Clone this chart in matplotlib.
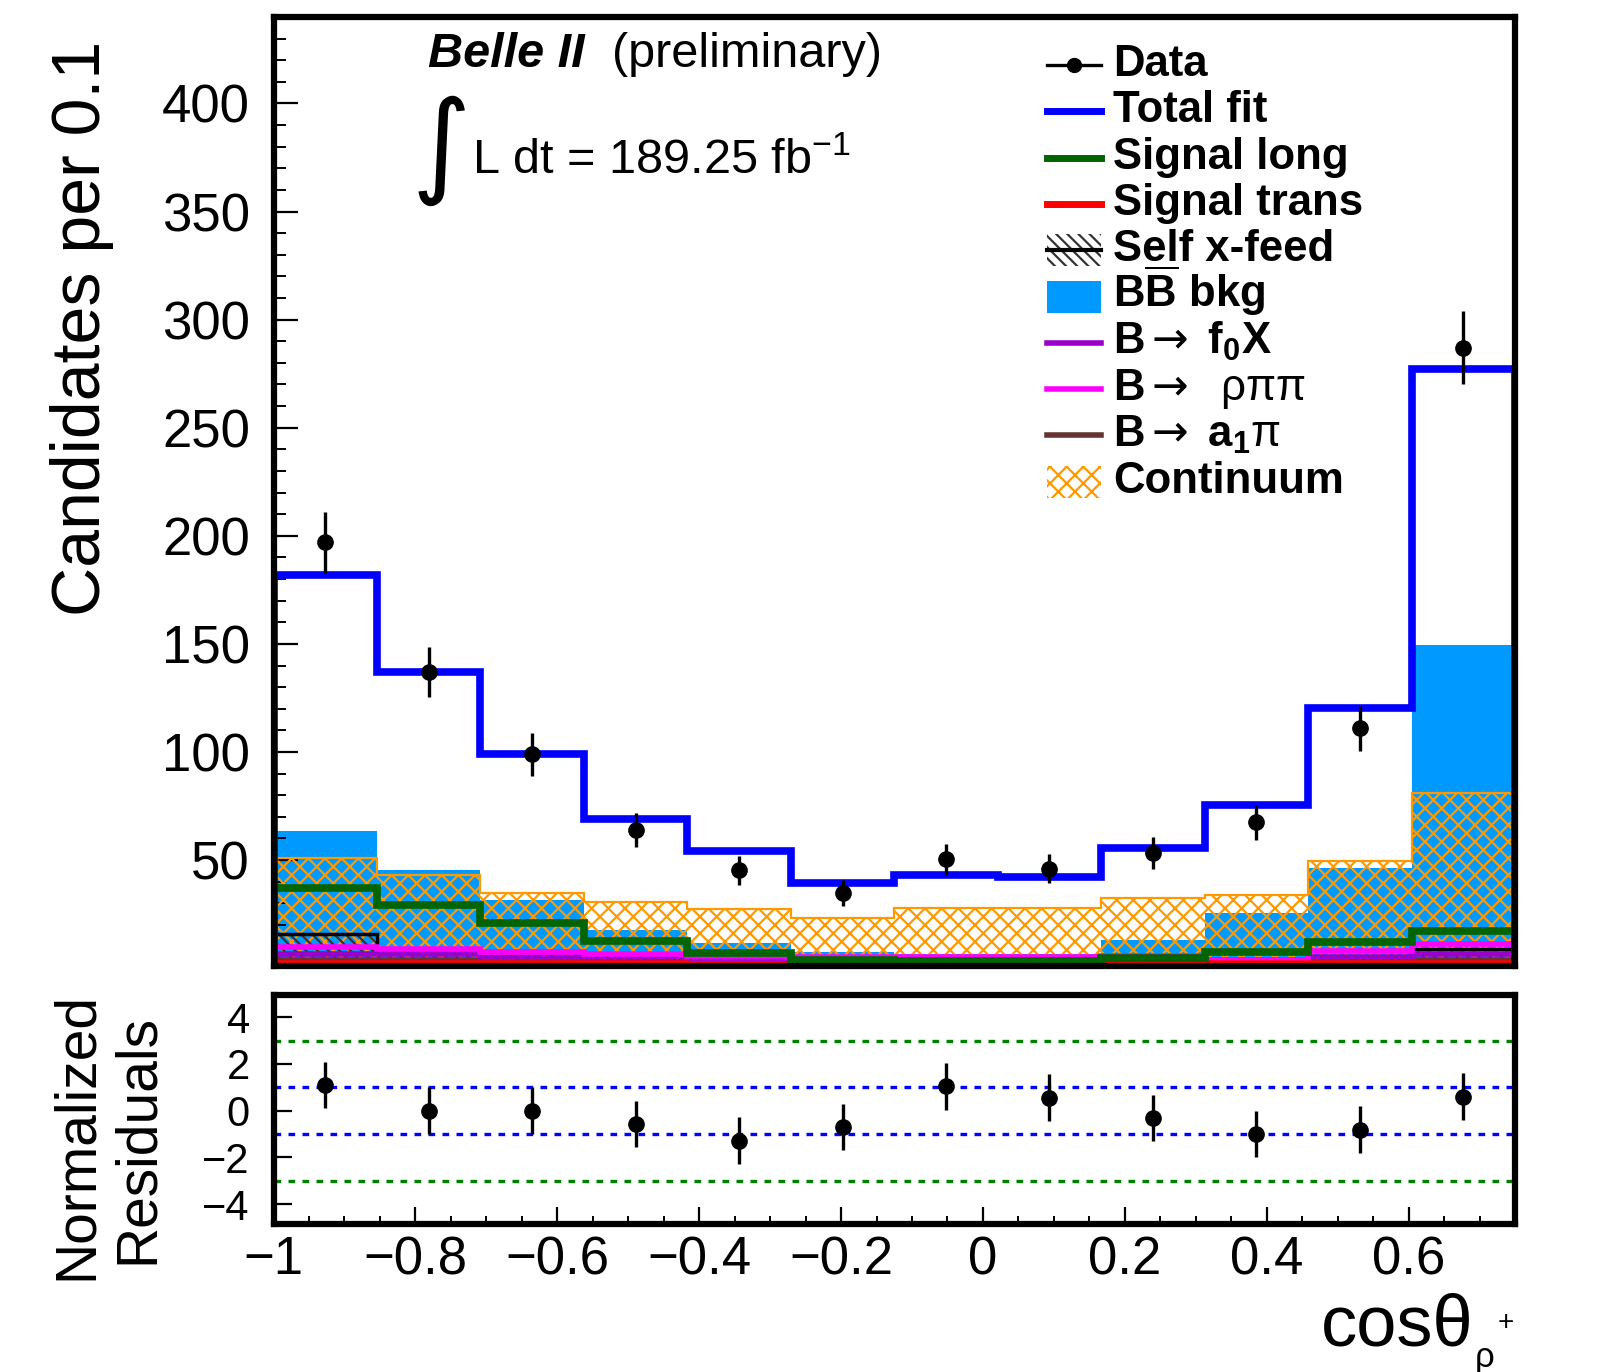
import numpy as np
import matplotlib
matplotlib.use("Agg")
import matplotlib.pyplot as plt
from matplotlib.lines import Line2D
from matplotlib.patches import Rectangle

plt.rcParams['font.family'] = ['Liberation Sans', 'DejaVu Sans']
plt.rcParams['mathtext.fontset'] = 'custom'
plt.rcParams['mathtext.rm'] = 'Liberation Sans'
plt.rcParams['mathtext.it'] = 'Liberation Sans:italic'
plt.rcParams['mathtext.bf'] = 'Liberation Sans:bold'
plt.rcParams['mathtext.sf'] = 'DejaVu Sans'
plt.rcParams['hatch.linewidth'] = 1.6

# ---- binning: 12 bins in cos(theta_rho+) ----
bin_edges = np.linspace(-1.0, 0.75, 13)

# ---- data and fit components (candidates per bin) ----
data_counts = [197, 137, 99, 64, 45.3, 34.8, 50.3, 46.0, 53.3, 67.4, 111, 287]
data_errors = [14.0, 11.7, 10.0, 8.0, 6.7, 5.9, 7.1, 6.8, 7.3, 8.2, 10.5, 16.9]
total_fit = [182, 137, 99, 69, 54.3, 39.2, 43.0, 42.4, 55.6, 75.6, 120.5, 277]
bb_bkg = [63.5, 45.5, 31.7, 17.8, 11.6, 7.5, 6.5, 6.5, 13.0, 25.5, 46.3, 149.7]
continuum = [50.9, 43.2, 34.7, 30.4, 27.3, 23.2, 27.8, 27.6, 32.4, 33.9, 49.4, 81.0]
signal_long = [37.0, 29.3, 20.9, 12.4, 7.0, 4.0, 3.5, 3.5, 4.5, 7.5, 11.9, 17.0]
signal_trans = [2.6, 2.5, 2.3, 2.2, 2.1, 2.0, 2.0, 2.0, 2.1, 2.2, 2.3, 2.6]
self_xfeed = [16.0, 7.0, 3.0, 2.5, 2.0, 2.0, 2.0, 2.0, 2.5, 3.0, 5.0, 9.0]
b_f0x = [6.5, 6.5, 5.0, 4.5, 4.0, 3.5, 3.5, 3.5, 4.0, 4.0, 5.0, 6.5]
b_rhopipi = [10.0, 9.0, 7.5, 6.5, 5.5, 5.0, 5.0, 5.0, 5.5, 4.0, 8.0, 11.0]
b_a1pi = [4.0, 4.0, 3.0, 3.0, 2.5, 2.5, 2.5, 2.5, 3.0, 3.0, 4.0, 4.0]

# ---- normalized residuals ----
residuals = [1.10, 0.0, 0.0, -0.57, -1.28, -0.70, 1.04, 0.55, -0.31, -1.0, -0.81, 0.60]
residual_errors = [1.0, 1.0, 1.0, 1.0, 1.0, 1.0, 1.0, 1.0, 1.0, 1.0, 1.0, 1.0]

# ---- ticks ----
ytick_values = [50, 100, 150, 200, 250, 300, 350, 400]
xtick_values = [-1.0, -0.8, -0.6, -0.4, -0.2, 0.0, 0.2, 0.4, 0.6]
xtick_labels = ["\u22121", "\u22120.8", "\u22120.6", "\u22120.4", "\u22120.2", "0", "0.2", "0.4", "0.6"]
res_tick_values = [-4, -2, 0, 2, 4]
res_tick_labels = ["\u22124", "\u22122", "0", "2", "4"]

centers = 0.5 * (bin_edges[:-1] + bin_edges[1:])

W, H = 1600, 1372
fig = plt.figure(figsize=(W / 100, H / 100), dpi=100)


def fx(px):
    return px / W


def fy(py):
    return 1 - py / H


left, right = 273.5, 1515
ax = fig.add_axes([fx(left), fy(966), (right - left) / W, (966 - 17) / H])
axr = fig.add_axes([fx(left), fy(1224), (right - left) / W, (1224 - 995) / H])

# ---- main panel ----
ax.stairs(bb_bkg, bin_edges, fill=True, facecolor='#0099ff', edgecolor='none', zorder=1)
ax.stairs(continuum, bin_edges, fill=True, facecolor='none', edgecolor='#ff9900',
          hatch='xx', lw=1.6, zorder=2)
ax.stairs(self_xfeed, bin_edges, fill=True, facecolor='none', edgecolor='#333333',
          hatch='\\\\\\', lw=0, zorder=3)
ax.stairs(self_xfeed, bin_edges, color='black', lw=2.5, zorder=3.1)
ax.stairs(b_a1pi, bin_edges, color='#663333', lw=4, zorder=4)
ax.stairs(b_f0x, bin_edges, color='#9900cc', lw=4, zorder=4.1)
ax.stairs(b_rhopipi, bin_edges, color='#ff00ff', lw=4, zorder=4.2)
ax.stairs(signal_trans, bin_edges, color='#ff0000', lw=4, zorder=5)
ax.stairs(signal_long, bin_edges, color='#006400', lw=5.5, zorder=6)
ax.stairs(total_fit, bin_edges, color='#0000ff', lw=5.5, zorder=7)
ax.errorbar(centers, data_counts, yerr=data_errors, fmt='o', color='black',
            ms=11, elinewidth=2.4, capsize=0, zorder=10)

ax.set_xlim(-1.0, 0.75)
ax.set_ylim(1, 440)
ax.set_yticks(ytick_values)
ax.set_yticks(np.arange(10, 441, 10), minor=True)
ax.tick_params(axis='y', which='major', direction='in', length=17, width=1.6,
               labelsize=38, pad=17, right=False)
ax.tick_params(axis='y', which='minor', direction='in', length=8.5, width=1.4, right=False)
ax.tick_params(axis='x', which='both', bottom=False, labelbottom=False, top=False)
for sp in ax.spines.values():
    sp.set_linewidth(4.5)
    sp.set_zorder(20)

# ---- residual panel ----
for lvl, col in [(3, '#008000'), (-3, '#008000'), (1, '#0000ff'), (-1, '#0000ff')]:
    axr.axhline(lvl, color=col, lw=2.4, linestyle=(0, (2.0, 2.2)), zorder=1)
axr.errorbar(centers, residuals, yerr=residual_errors, fmt='o', color='black',
             ms=11, elinewidth=2.4, capsize=0, zorder=10)
axr.set_xlim(-1.0, 0.75)
axr.set_ylim(-4.85, 4.95)
axr.set_yticks(res_tick_values, labels=res_tick_labels)
axr.set_xticks(xtick_values, labels=xtick_labels)
axr.set_xticks(np.arange(-1.0, 0.751, 0.05), minor=True)
axr.tick_params(axis='y', which='major', direction='in', length=13, width=1.6,
                labelsize=30, pad=17, right=False)
axr.tick_params(axis='x', which='major', direction='in', length=12, width=1.6,
                labelsize=38, pad=8, top=False)
axr.tick_params(axis='x', which='minor', direction='in', length=5.5, width=1.4, top=False)
for sp in axr.spines.values():
    sp.set_linewidth(4.5)
    sp.set_zorder(20)

# ---- axis titles ----
fig.text(fx(82), fy(41), "Candidates per 0.1", rotation=90, ha='center', va='top', fontsize=49)
fig.text(fx(77), fy(1136), "Normalized", rotation=90, ha='center', va='center', fontsize=41)
fig.text(fx(138), fy(1139), "Residuals", rotation=90, ha='center', va='center', fontsize=41)
fig.text(fx(1474), fy(1345), "cos\u03b8", ha='right', va='baseline', fontsize=52)
fig.text(fx(1475), fy(1367), "\u03c1", ha='left', va='baseline', fontsize=25)
fig.text(fx(1498), fy(1330), "+", ha='left', va='baseline', fontsize=20)

# ---- experiment label ----
fig.text(fx(428), fy(67), "Belle II", fontsize=35, fontweight='bold', style='italic', va='baseline')
fig.text(fx(612), fy(67), "(preliminary)", fontsize=35, va='baseline')
fig.text(fx(441), fy(150), "\u222b", fontsize=82, ha='center', va='center', family='DejaVu Sans')
fig.text(fx(472), fy(173.5), "L dt = 189.25 fb$^{-1}$", fontsize=35, va='baseline')

# ---- legend ----
arrow = "$\\mathsf{\\rightarrow}$"
leg_labels = ["Data", "Total fit", "Signal long", "Signal trans", "Self x-feed",
              "B$\\overline{\\mathbf{B}}$ bkg",
              "B" + arrow + " f$_{\\mathbf{0}}$X",
              "B" + arrow + "  $\\mathrm{\\rho\\pi\\pi}$",
              "B" + arrow + " a$_{\\mathbf{1}}\\mathrm{\\pi}$",
              "Continuum"]
hx0, hx1, tx = 1047, 1101, 1113
row0, drow = 65, 46.3
tf = fig.transFigure
for i, lab in enumerate(leg_labels):
    yc = row0 + drow * i
    xs = [fx(hx0), fx(hx1)]
    ys = [fy(yc), fy(yc)]
    if i == 0:
        fig.add_artist(Line2D(xs, ys, color='black', lw=2.4, transform=tf))
        fig.add_artist(Line2D([fx(0.5 * (hx0 + hx1))], [fy(yc)], marker='o', ms=10,
                              color='black', transform=tf))
    elif i in (1, 2, 3, 6, 7, 8):
        col = {1: '#0000ff', 2: '#006400', 3: '#ff0000', 6: '#9900cc',
               7: '#ff00ff', 8: '#663333'}[i]
        fig.add_artist(Line2D(xs, ys, color=col, lw=5 if i < 4 else 4, transform=tf))
    elif i == 4:
        fig.add_artist(Rectangle((fx(hx0), fy(yc + 16)), (hx1 - hx0) / W, 32 / H,
                                 facecolor='none', edgecolor='#333333', hatch='\\\\\\',
                                 lw=0, transform=tf))
        fig.add_artist(Line2D(xs, ys, color='black', lw=3, transform=tf))
    elif i == 5:
        fig.add_artist(Rectangle((fx(hx0), fy(yc + 16)), (hx1 - hx0) / W, 32 / H,
                                 facecolor='#0099ff', edgecolor='none', transform=tf))
    elif i == 9:
        fig.add_artist(Rectangle((fx(hx0), fy(yc + 16)), (hx1 - hx0) / W, 32 / H,
                                 facecolor='none', edgecolor='#ff9900', hatch='xx',
                                 lw=0, transform=tf))
    fig.text(fx(tx), fy(yc + 11), lab, fontsize=31.5, fontweight='bold', va='baseline')

fig.savefig("out.png", dpi=100)
